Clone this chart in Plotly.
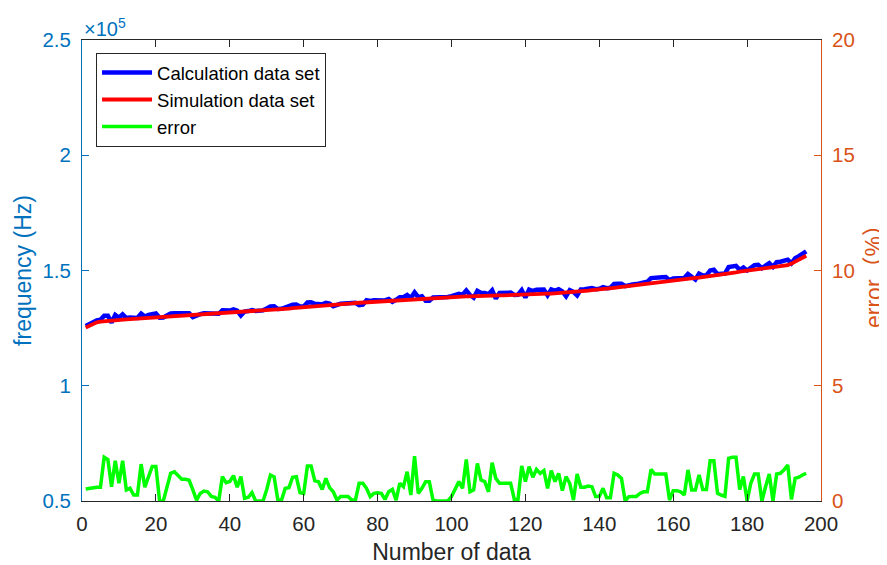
import plotly.graph_objects as go

# ---- data (frequency values in units of 1e5 Hz, error in %) ----
sample_index = list(range(1, 197))

calculation_set = [
    1.259, 1.267, 1.276, 1.283, 1.286, 1.304, 1.304, 1.274, 1.307, 1.295,
    1.310, 1.294, 1.296, 1.293, 1.294, 1.313, 1.300, 1.307, 1.313, 1.314,
    1.295, 1.296, 1.305, 1.314, 1.315, 1.314, 1.313, 1.314, 1.315, 1.298,
    1.306, 1.311, 1.314, 1.314, 1.313, 1.313, 1.312, 1.327, 1.325, 1.326,
    1.331, 1.326, 1.305, 1.322, 1.324, 1.328, 1.324, 1.326, 1.327, 1.335,
    1.344, 1.345, 1.333, 1.334, 1.341, 1.343, 1.351, 1.352, 1.344, 1.344,
    1.361, 1.362, 1.355, 1.355, 1.353, 1.360, 1.356, 1.345, 1.352, 1.356,
    1.357, 1.359, 1.358, 1.360, 1.350, 1.352, 1.371, 1.368, 1.371, 1.372,
    1.373, 1.370, 1.376, 1.364, 1.373, 1.384, 1.384, 1.394, 1.381, 1.405,
    1.384, 1.388, 1.369, 1.369, 1.383, 1.383, 1.384, 1.384, 1.385, 1.389,
    1.393, 1.399, 1.395, 1.413, 1.394, 1.382, 1.412, 1.403, 1.402, 1.397,
    1.414, 1.378, 1.403, 1.403, 1.404, 1.404, 1.394, 1.395, 1.415, 1.383,
    1.417, 1.411, 1.416, 1.415, 1.417, 1.392, 1.418, 1.413, 1.419, 1.409,
    1.388, 1.415, 1.407, 1.392, 1.418, 1.419, 1.422, 1.424, 1.419, 1.421,
    1.428, 1.423, 1.425, 1.442, 1.443, 1.443, 1.432, 1.437, 1.439, 1.441,
    1.446, 1.449, 1.451, 1.467, 1.467, 1.469, 1.471, 1.472, 1.458, 1.465,
    1.467, 1.467, 1.467, 1.485, 1.473, 1.461, 1.486, 1.478, 1.479, 1.500,
    1.503, 1.484, 1.486, 1.487, 1.515, 1.518, 1.520, 1.503, 1.513, 1.500,
    1.514, 1.523, 1.525, 1.510, 1.521, 1.532, 1.516, 1.536, 1.538, 1.542,
    1.547, 1.531, 1.553, 1.562, 1.573, 1.583,
]

simulation_set = [
    1.252, 1.260, 1.268, 1.275, 1.278, 1.280, 1.281, 1.282, 1.284, 1.285,
    1.287, 1.288, 1.289, 1.290, 1.291, 1.292, 1.292, 1.293, 1.294, 1.295,
    1.295, 1.296, 1.297, 1.298, 1.299, 1.300, 1.301, 1.302, 1.303, 1.304,
    1.306, 1.307, 1.308, 1.309, 1.310, 1.311, 1.312, 1.313, 1.314, 1.315,
    1.316, 1.318, 1.319, 1.320, 1.322, 1.323, 1.324, 1.326, 1.327, 1.328,
    1.329, 1.331, 1.332, 1.333, 1.334, 1.335, 1.337, 1.338, 1.339, 1.340,
    1.341, 1.342, 1.343, 1.344, 1.346, 1.347, 1.348, 1.350, 1.351, 1.353,
    1.354, 1.356, 1.357, 1.359, 1.360, 1.362, 1.363, 1.365, 1.366, 1.367,
    1.368, 1.369, 1.370, 1.371, 1.372, 1.373, 1.375, 1.376, 1.377, 1.378,
    1.379, 1.380, 1.381, 1.381, 1.382, 1.383, 1.384, 1.384, 1.385, 1.386,
    1.386, 1.387, 1.387, 1.388, 1.388, 1.389, 1.389, 1.390, 1.390, 1.391,
    1.391, 1.392, 1.392, 1.392, 1.393, 1.393, 1.393, 1.394, 1.394, 1.395,
    1.396, 1.397, 1.397, 1.398, 1.399, 1.400, 1.400, 1.401, 1.402, 1.403,
    1.403, 1.404, 1.406, 1.408, 1.409, 1.411, 1.413, 1.415, 1.416, 1.418,
    1.420, 1.421, 1.423, 1.425, 1.427, 1.429, 1.432, 1.434, 1.436, 1.438,
    1.441, 1.443, 1.445, 1.447, 1.450, 1.452, 1.454, 1.455, 1.457, 1.458,
    1.460, 1.461, 1.463, 1.465, 1.466, 1.468, 1.469, 1.471, 1.472, 1.474,
    1.477, 1.479, 1.482, 1.484, 1.487, 1.490, 1.492, 1.495, 1.497, 1.500,
    1.502, 1.505, 1.507, 1.510, 1.512, 1.514, 1.516, 1.518, 1.520, 1.521,
    1.523, 1.530, 1.538, 1.546, 1.555, 1.564,
]

error_percent = [
    0.52, 0.55, 0.60, 0.60, 0.60, 1.90, 1.80, 0.62, 1.75, 0.77,
    1.75, 0.48, 0.55, 0.26, 0.26, 1.60, 0.60, 1.06, 1.50, 1.50,
    0.00, 0.00, 0.60, 1.20, 1.27, 1.10, 0.94, 0.94, 0.90, 0.48,
    0.04, 0.33, 0.43, 0.40, 0.20, 0.16, 0.00, 1.06, 0.80, 0.85,
    1.10, 0.60, 1.06, 0.12, 0.16, 0.36, 0.00, 0.00, 0.00, 0.50,
    1.13, 1.05, 0.04, 0.04, 0.55, 0.58, 1.03, 1.05, 0.36, 0.33,
    1.52, 1.52, 0.88, 0.84, 0.50, 0.98, 0.58, 0.40, 0.04, 0.20,
    0.20, 0.20, 0.04, 0.04, 0.77, 0.77, 0.55, 0.19, 0.33, 0.36,
    0.33, 0.07, 0.40, 0.50, 0.04, 0.77, 0.62, 1.27, 0.26, 1.95,
    0.33, 0.55, 0.84, 0.84, 0.04, 0.00, 0.00, 0.00, 0.00, 0.19,
    0.48, 0.84, 0.55, 1.80, 0.40, 0.48, 1.63, 0.91, 0.84, 0.40,
    1.66, 0.98, 0.77, 0.77, 0.77, 0.77, 0.07, 0.07, 1.52, 0.84,
    1.49, 1.03, 1.37, 1.20, 1.32, 0.55, 1.32, 0.84, 1.20, 0.45,
    1.06, 0.77, 0.04, 1.17, 0.60, 0.60, 0.65, 0.62, 0.19, 0.19,
    0.55, 0.14, 0.14, 1.20, 1.13, 0.98, 0.00, 0.19, 0.20, 0.20,
    0.33, 0.40, 0.40, 1.37, 1.17, 1.17, 1.17, 1.17, 0.04, 0.45,
    0.45, 0.40, 0.26, 1.35, 0.48, 0.48, 1.13, 0.50, 0.50, 1.75,
    1.75, 0.33, 0.26, 0.20, 1.85, 1.90, 1.90, 0.50, 1.06, 0.00,
    0.77, 1.17, 1.17, 0.00, 0.62, 1.17, 0.00, 1.17, 1.20, 1.35,
    1.56, 0.07, 0.98, 1.03, 1.13, 1.20,
]

x_ticks = [0, 20, 40, 60, 80, 100, 120, 140, 160, 180, 200]
y_left_ticks = [0.5, 1, 1.5, 2, 2.5]
y_left_labels = ["0.5", "1", "1.5", "2", "2.5"]
y_right_ticks = [0, 5, 10, 15, 20]

FONT = "Liberation Sans, Arial, Helvetica, Noto Sans CJK SC, sans-serif"
LEFT_C = "#0072BD"
RIGHT_C = "#D95319"
AX_C = "#262626"

fig = go.Figure()
fig.add_trace(go.Scatter(x=sample_index, y=calculation_set, mode="lines",
                         name="Calculation data set",
                         line=dict(color="#0000FF", width=4.5)))
fig.add_trace(go.Scatter(x=sample_index, y=simulation_set, mode="lines",
                         name="Simulation data set",
                         line=dict(color="#FF0000", width=3.8)))
fig.add_trace(go.Scatter(x=sample_index, y=error_percent, mode="lines",
                         name="error", yaxis="y2",
                         line=dict(color="#00FF00", width=3.5)))

fig.update_layout(
    width=879, height=557,
    margin=dict(l=74, r=66, t=32, b=64, autoexpand=False),
    paper_bgcolor="white", plot_bgcolor="white",
    font=dict(family=FONT, size=20, color=AX_C),
    showlegend=True,
    legend=dict(x=0.019, y=0.972, xanchor="left", yanchor="top",
                bgcolor="white", bordercolor=AX_C, borderwidth=1,
                font=dict(size=18.5, color="#000000"),
                itemwidth=50, tracegroupgap=0),
    xaxis=dict(range=[0, 200], tickvals=x_ticks, showgrid=False, zeroline=False,
               automargin=False,
               showline=True, linecolor=AX_C, linewidth=1, mirror="ticks",
               ticks="inside", ticklen=7, tickcolor=AX_C,
               tickfont=dict(size=20.5, color=AX_C), ticklabelstandoff=4,
               title=dict(text="Number of data", font=dict(size=23, color=AX_C),
                          standoff=14)),
    yaxis=dict(range=[0.5, 2.5], tickvals=y_left_ticks, ticktext=y_left_labels,
               showgrid=False, zeroline=False, automargin=False,
               showline=True, linecolor=LEFT_C, linewidth=1,
               ticks="inside", ticklen=7, tickcolor=LEFT_C,
               tickfont=dict(size=20.5, color=LEFT_C), ticklabelstandoff=6,
               title=dict(text="frequency (Hz)", font=dict(size=23, color=LEFT_C),
                          standoff=4)),
    yaxis2=dict(range=[0, 20], tickvals=y_right_ticks, overlaying="y", side="right",
                showgrid=False, zeroline=False, automargin=False,
                showline=True, linecolor=RIGHT_C, linewidth=1,
                ticks="inside", ticklen=7, tickcolor=RIGHT_C,
                tickfont=dict(size=20.5, color=RIGHT_C), ticklabelstandoff=6,
                title=dict(text="error（%）", font=dict(size=23, color=RIGHT_C),
                           standoff=15)),
    annotations=[dict(text="×10<sup>5</sup>", xref="paper", yref="paper",
                      x=0, y=1, xanchor="left", yanchor="bottom", yshift=-2,
                      showarrow=False, font=dict(size=20, color=LEFT_C))],
)

fig.write_html("out.html")
